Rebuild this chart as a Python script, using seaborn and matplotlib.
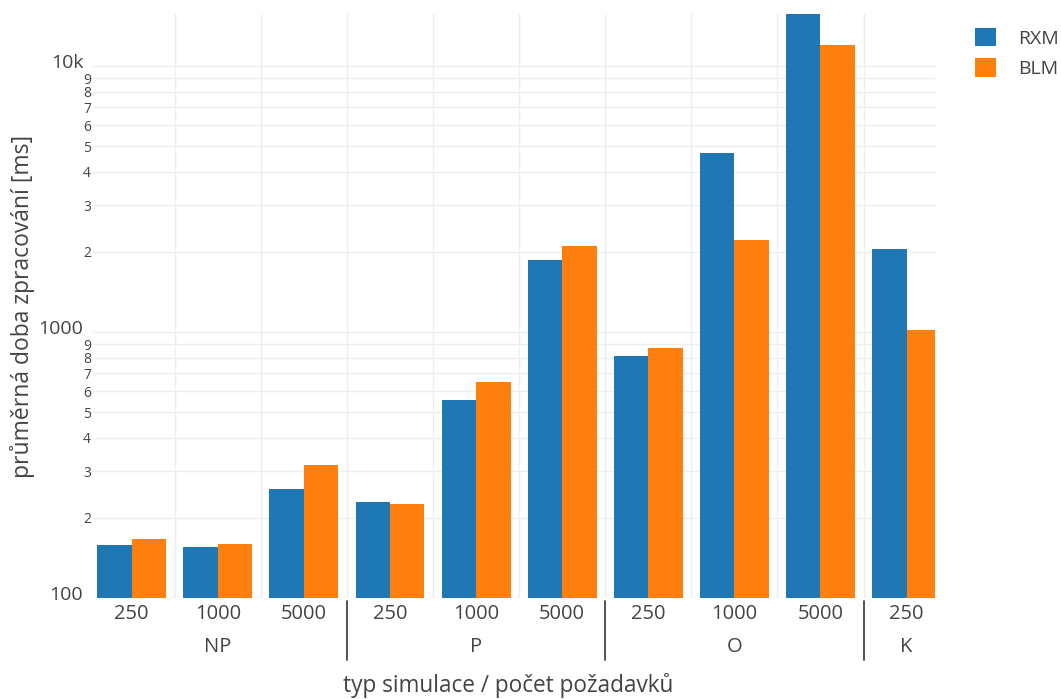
import numpy as np
import pandas as pd
import matplotlib
matplotlib.use("Agg")
import matplotlib.pyplot as plt
import matplotlib.transforms as mtransforms
import seaborn as sns

# values (ms, log axis)
sim_types = ["NP", "NP", "NP", "P", "P", "P", "O", "O", "O", "K"]
req_counts = ["250", "1000", "5000", "250", "1000", "5000", "250", "1000", "5000", "250"]
rxm_ms = [158, 156, 257, 229, 557, 1864, 810, 4710, 15700, 2050]
blm_ms = [166, 159, 316, 226, 650, 2100, 873, 2220, 11970, 1017]
series = ["RXM", "BLM"]
colors = ["#1f77b4", "#ff7f0e"]
y_range = (100, 15700)
major_ticks = [100, 1000, 10000]
major_labels = ["100", "1000", "10k"]

# long-form table for seaborn
keys = [f"{t} {c}" for t, c in zip(sim_types, req_counts)]
df = pd.DataFrame({
    "key": keys * 2,
    "ms": rxm_ms + blm_ms,
    "impl": ["RXM"] * len(keys) + ["BLM"] * len(keys),
})

sns.set_theme(style="white")
plt.rcParams["font.family"] = ["Open Sans", "DejaVu Sans"]
text_col = "#444444"

fig = plt.figure(figsize=(10.61, 6.99), dpi=100)
ax = fig.add_axes([93 / 1061, 1 - 598 / 699, 842 / 1061, 584 / 699])

sns.barplot(data=df, x="key", y="ms", hue="impl", order=keys, hue_order=series,
            palette=colors, width=0.8, gap=0, linewidth=0, errorbar=None,
            saturation=1, ax=ax)

ax.set_yscale("log")
ax.set_ylim(*y_range)
# the last category is cut at the right edge, as in the original
ax.set_xlim(-0.45, len(keys) - 1 + 0.33)

# y ticks: big labels at decades, small digits in between
minor_vals, minor_labels = [], []
for dec in [100, 1000]:
    for d in range(2, 10):
        minor_vals.append(d * dec)
        minor_labels.append(str(d))
ax.set_yticks(major_ticks, labels=major_labels)
ax.set_yticks(minor_vals, labels=minor_labels, minor=True)
ax.tick_params(axis="y", which="major", labelsize=14, length=0, pad=7, colors=text_col)
ax.tick_params(axis="y", which="minor", labelsize=10, length=0, pad=1.5, colors=text_col)
shift_up = mtransforms.ScaledTranslation(0, 5 / 100, fig.dpi_scale_trans)
for lab in ax.get_yticklabels():
    lab.set_transform(lab.get_transform() + shift_up)

# x ticks: request counts, grid on category borders
ax.set_xticks(range(len(keys)), labels=req_counts)
ax.set_xticks(np.arange(0.5, len(keys) - 1, 1), minor=True)
ax.tick_params(axis="x", which="both", length=0, pad=4, labelsize=14.5, colors=text_col)

ax.grid(axis="y", which="both", color="#eeeeee", lw=1)
ax.grid(axis="x", which="minor", color="#eeeeee", lw=1)
ax.grid(axis="x", which="major", visible=False)
ax.set_axisbelow(True)
sns.despine(ax=ax, left=True, bottom=True)
ax.set_xlabel("")
ax.set_ylabel("")

# group labels and dividers below the axis
trans = mtransforms.blended_transform_factory(ax.transData, ax.transAxes)
groups = []
for i, t in enumerate(sim_types):
    if not groups or groups[-1][0] != t:
        groups.append([t, i, i])
    else:
        groups[-1][2] = i
for gi, (name, start, end) in enumerate(groups):
    ax.text((start + end) / 2, -49 / 584, name, transform=trans, ha="center", va="center",
            fontsize=14.5, color=text_col)
    if gi > 0:
        ax.plot([start - 0.5, start - 0.5], [-3 / 584, -62 / 584], transform=trans,
                clip_on=False, color=text_col, lw=1.3)

fig.text(508 / 1061, 1 - 686 / 699, "typ simulace / počet požadavků", ha="center",
         va="center", fontsize=16.3, color=text_col)
fig.text(23 / 1061, 1 - 306 / 699, "průměrná doba zpracování [ms]", ha="center",
         va="center", rotation=90, fontsize=16.5, color=text_col)

handles, labels = ax.get_legend_handles_labels()
ax.get_legend().remove()
fig.legend(handles, labels, loc="upper left", bbox_to_anchor=(975 / 1061, 1 - 28 / 699),
           frameon=False, fontsize=14, handlelength=1.07, handleheight=1.07,
           handletextpad=1.15, labelspacing=0.55, borderpad=0, borderaxespad=0,
           labelcolor=text_col)

fig.savefig("out.png", dpi=100)
